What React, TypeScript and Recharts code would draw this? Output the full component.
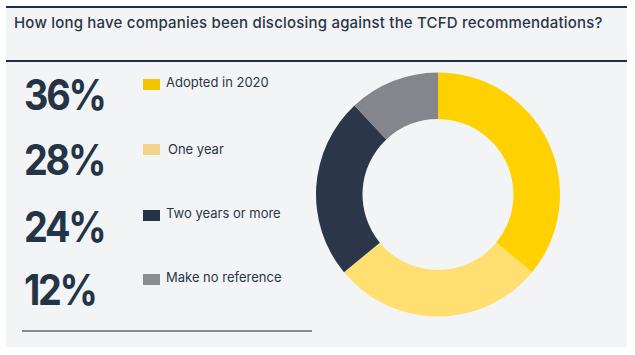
import React from "react";
import { PieChart, Pie, Cell } from "recharts";

const title = "How long have companies been disclosing against the TCFD recommendations?";
const categories = ["Adopted in 2020", "One year", "Two years or more", "Make no reference"];
const shares = [36, 28, 24, 12];
const sliceColors = ["#FFD100", "#FFDF70", "#2B3748", "#85858E"];
const legendColors = ["#F5C400", "#F3D28A", "#243447", "#8A8C90"];

const data = categories.map((name, i) => ({ name, value: shares[i] }));

const numTops = [74, 139, 206, 269];
const legTops = [76, 143, 207, 271];
const sqTops = [79, 144, 210, 274];

export default function App() {
  return (
    <div style={{ position: "absolute", left: 0, top: 0, width: 635, height: 355, background: "#FFFFFF", overflow: "hidden" }}>
      <div style={{ position: "absolute", left: 6, top: 6, width: 621, height: 341, background: "#F3F4F6" }} />
      <div style={{ position: "absolute", left: 6, top: 6, width: 621, height: 2, background: "#1F2E40" }} />
      <div style={{ position: "absolute", left: 6, top: 60, width: 621, height: 2, background: "#1F2E40" }} />
      <div style={{ position: "absolute", left: 14, top: 15, fontFamily: "Inter", fontSize: 15, lineHeight: 1, fontWeight: 500, color: "#2A3646", whiteSpace: "nowrap", letterSpacing: 0.2 }}>
        {title}
      </div>
      {shares.map((v, i) => (
        <div key={"n" + i} style={{ position: "absolute", left: 24, top: numTops[i], fontFamily: "Inter", fontSize: 42, lineHeight: 1, fontWeight: 700, color: "#243447", whiteSpace: "nowrap", letterSpacing: -2.5, transform: "scaleX(0.9)", transformOrigin: "left top" }}>
          {v}%
        </div>
      ))}
      {categories.map((c, i) => (
        <React.Fragment key={"l" + i}>
          <div style={{ position: "absolute", left: 143, top: sqTops[i], width: 17, height: 11, background: legendColors[i] }} />
          <div style={{ position: "absolute", left: i === 1 ? 168 : 166, top: legTops[i], fontFamily: "Inter", fontSize: 13, lineHeight: 1, color: "#2A3646", whiteSpace: "nowrap" }}>
            {c}
          </div>
        </React.Fragment>
      ))}
      <div style={{ position: "absolute", left: 22, top: 330, width: 290, height: 1.5, background: "#8A8A8A" }} />
      <div style={{ position: "absolute", left: 0, top: 0 }}>
        <PieChart width={635} height={355} margin={{ top: 0, right: 0, bottom: 0, left: 0 }}>
          <Pie
            data={data}
            dataKey="value"
            nameKey="name"
            cx={438}
            cy={194.5}
            innerRadius={75.5}
            outerRadius={122}
            startAngle={90}
            endAngle={-270}
            stroke="none"
            isAnimationActive={false}
          >
            {data.map((d, i) => (
              <Cell key={d.name} fill={sliceColors[i]} />
            ))}
          </Pie>
        </PieChart>
      </div>
    </div>
  );
}
